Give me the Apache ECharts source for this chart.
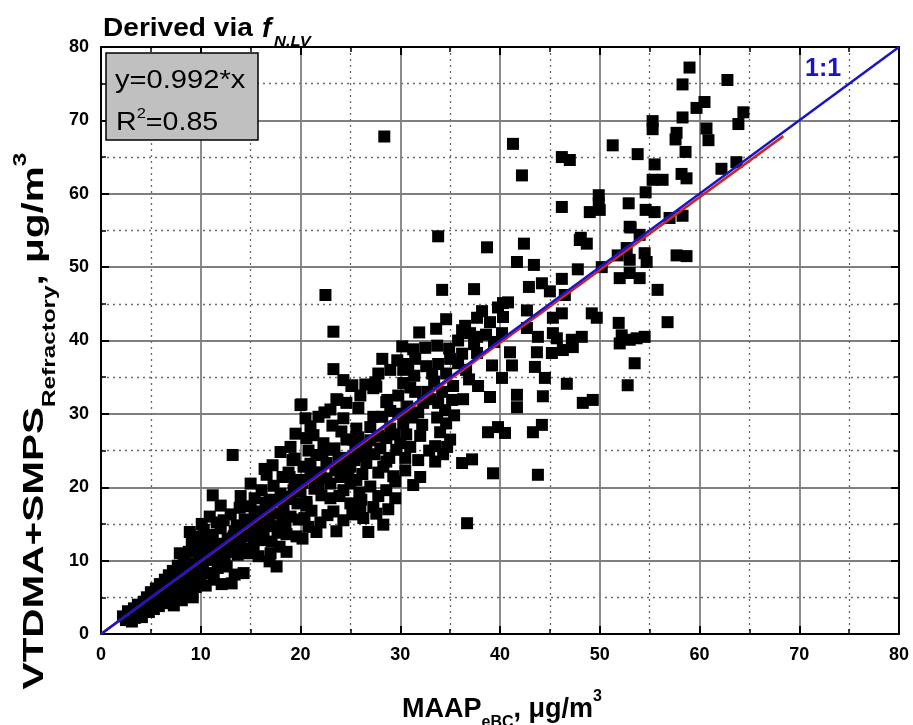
<!DOCTYPE html>
<html>
<head>
<meta charset="utf-8">
<script src="https://cdn.jsdelivr.net/npm/echarts@6/dist/echarts.min.js"></script>
<style>
html,body{margin:0;padding:0;background:#fff;}
#chart{width:913px;height:725px;}
</style>
</head>
<body>
<div id="chart"></div>
<script>
// ---- data (MAAP eBC vs VTDMA+SMPS refractory, µg/m³) ----
const lowBand = [
[2.2,2.4],[2.5,1.9],[2.7,3.1],[3.0,2.5],[3.1,1.7],[3.3,3.5],[3.5,2.7],[3.7,4.0],[3.9,3.1],[4.1,2.3],
[4.3,4.4],[4.4,3.5],[4.6,5.0],[4.8,3.0],[5.0,5.7],[5.1,4.2],[5.3,3.4],[5.5,6.2],[5.6,4.8],[5.8,3.8],
[5.9,6.8],[6.1,5.5],[6.2,4.2],[6.4,7.4],[6.5,5.9],[6.6,4.5],[6.8,8.0],[6.9,6.5],[7.0,5.1],[7.2,8.6],
[7.3,3.9],[7.4,7.0],[7.5,5.8],[7.7,9.3],[7.8,7.6],[7.9,6.2],[7.9,11.0],[8.1,4.6],[8.2,8.4],[8.3,10.0],
[8.4,6.8],[8.6,9.0],[8.7,5.5],[8.8,11.2],[8.9,13.9],[9.0,7.6],[9.1,12.3],[9.2,5.0],[9.3,9.6],[9.5,6.4],
[9.6,11.9],[9.7,8.3],[9.8,13.3],[9.9,10.5],[10.0,7.0],[10.1,15.0],[10.2,9.2],[10.3,14.2],[10.4,11.6]
];
const band10to20 = [
[10.5,6.6],[10.6,12.8],[10.8,8.3],[10.9,16.0],[11.0,10.2],[11.2,18.9],[11.2,13.5],[11.3,7.4],[11.5,11.3],[11.6,15.2],
[11.7,9.0],[11.9,12.3],[12.0,14.4],[12.1,6.8],[12.3,15.5],[12.4,10.5],[12.6,9.2],[12.7,13.0],[12.9,11.8],[13.0,16.3],
[13.1,6.9],[13.2,24.4],[13.3,13.3],[13.4,8.1],[13.6,14.8],[13.7,10.8],[13.9,17.2],[14.0,12.5],[14.3,8.3],[14.4,15.6],
[14.6,13.7],[14.8,11.0],[15.0,17.4],[15.2,14.3],[15.3,11.9],[15.4,18.5],[15.6,15.5],[15.8,12.8],[16.0,16.7],[16.1,19.6],
[16.3,14.0],[16.5,17.9],[16.6,21.7],[16.8,15.2],[16.9,9.9],[16.9,18.3],[17.1,12.6],[17.3,20.2],[17.4,16.4],[17.6,9.2],
[17.7,13.8],[17.9,11.9],[18.0,19.1],[18.2,21.4],[18.3,17.0],[18.5,14.8],[18.6,18.7],[18.8,22.0],[18.9,21.4],[19.0,16.0],
[19.2,23.7],[19.3,19.6],[19.4,23.9],[19.5,27.3],[19.6,13.3],[19.7,17.8],[19.9,21.0],[20.0,19.4],[20.0,31.2]
];
const band20to30 = [
[20.1,31.3],[20.3,22.8],[20.4,15.8],[20.5,29.4],[20.6,18.0],[20.8,25.0],[21.0,21.4],[21.1,16.8],[21.3,27.1],[21.4,19.8],
[21.6,24.4],[21.6,13.9],[21.8,29.6],[22.0,22.0],[22.1,18.9],[22.3,26.0],[22.5,46.2],[22.6,23.3],[22.7,16.2],[22.8,25.1],
[23.0,20.5],[23.2,28.4],[23.3,41.2],[23.3,36.1],[23.3,16.7],[23.5,22.3],[23.6,32.0],[23.7,31.9],[23.9,18.8],[24.0,21.4],
[24.1,27.6],[24.3,34.6],[24.3,29.4],[24.3,19.6],[24.3,15.5],[24.5,24.0],[24.8,22.0],[25.0,17.8],[25.0,22.8],[25.1,33.8],
[25.2,33.9],[25.3,26.5],[25.5,25.1],[25.6,21.0],[25.6,28.0],[25.8,30.8],[25.9,19.3],[26.1,18.3],[26.3,15.8],[26.4,24.2],
[26.6,23.3],[26.8,13.9],[27.0,26.4],[27.0,20.1],[27.3,29.6],[27.3,17.3],[27.3,33.5],[27.5,34.3],[27.6,16.4],[27.6,33.7],
[27.8,22.0],[28.0,25.3],[28.2,37.5],[28.3,22.8],[28.3,14.9],[28.4,67.8],[28.6,31.6],[28.6,26.7],[28.6,19.6],[28.7,31.9],
[28.9,24.0],[29.0,28.0],[29.3,21.5],[29.5,20.8],[29.6,25.1],[29.7,37.3],[29.8,30.0],[30.0,26.0]
];
const band30to40 = [
[30.2,39.2],[30.3,36.0],[30.3,34.2],[30.3,28.7],[30.5,24.0],[30.7,31.0],[31.0,25.5],[31.2,29.5],[31.3,38.8],[31.5,33.0],
[31.8,23.7],[31.9,41.1],[32.0,21.4],[32.0,27.0],[32.3,31.5],[32.5,39.0],[32.7,33.0],[32.9,25.0],[33.2,35.5],[33.5,23.5],
[33.5,25.6],[33.6,41.6],[33.7,39.3],[33.7,29.5],[33.8,54.2],[33.8,31.5],[34.0,27.5],[34.2,46.9],[34.3,24.5],[34.5,30.5],
[34.6,42.9],[34.6,28.7],[34.7,25.5],[34.9,38.9],[35.0,26.5],[35.2,31.9],[35.3,33.8],[35.8,36.9],[36.2,41.4],[36.2,23.3],
[36.3,32.0],[36.5,42.0],[36.7,15.1],[36.9,34.7],[37.2,23.8],[37.4,47.0],[37.7,43.1],[37.7,40.5],[37.7,38.3],[38.7,52.7],
[38.8,27.5],[39.0,32.3],[39.2,36.6],[39.3,21.9],[39.8,28.2]
];
const band40to50 = [
[40.2,41.0],[40.2,34.9],[40.3,45.1],[40.3,43.2],[40.5,27.4],[40.8,45.2],[41.0,38.4],[41.2,36.6],[41.3,66.8],[41.7,50.7],
[41.7,32.6],[41.7,30.9],[42.2,62.5],[42.4,53.2],[42.7,44.1],[42.7,41.7],[42.9,47.3],[43.3,27.5],[43.4,50.3],[43.5,36.4],
[43.7,38.4],[43.8,40.5],[43.8,21.7],[44.2,47.8],[44.2,28.5],[44.3,32.4],[44.5,34.9],[45.0,46.7],[45.2,38.3],[45.3,43.1],
[45.3,41.0],[45.7,40.3],[46.2,58.2],[46.2,48.4],[46.2,43.7],[46.2,65.0],[46.3,38.7],[46.5,46.2],[46.7,34.1],[47.0,64.6],
[47.2,40.1],[47.3,39.1],[47.8,49.7],[48.0,53.7],[48.1,54.0],[48.2,40.5],[48.3,31.5],[48.7,53.2],[49.0,57.5],[49.2,43.7],
[49.3,31.9],[49.7,43.1],[49.9,59.8],[49.9,58.7],[50.0,57.8]
];
const band50to65 = [
[50.2,50.0],[51.3,66.6],[51.8,51.6],[51.9,42.4],[52.0,48.5],[52.0,39.6],[52.2,40.7],[52.7,52.6],[52.8,33.9],[52.9,58.7],
[53.0,55.5],[53.0,51.0],[53.0,49.2],[53.0,40.1],[53.1,55.4],[53.5,36.9],[53.7,40.3],[53.8,65.4],[54.0,54.4],[54.0,48.5],
[54.5,51.9],[54.5,40.5],[54.6,60.2],[54.6,57.8],[54.7,50.7],[55.3,69.9],[55.3,68.8],[55.3,61.9],[55.5,64.0],[55.5,57.5],
[55.8,46.9],[56.3,61.9],[56.8,42.5],[57.0,56.7],[57.6,67.4],[57.7,68.3],[57.7,51.6],[58.2,62.7],[58.3,74.9],[58.3,70.4],
[58.3,57.0],[58.6,65.7],[58.7,62.1],[58.7,51.5],[59.0,77.2],[59.7,71.7],[60.5,72.5],[60.7,68.9],[60.9,67.3],[62.2,63.4],
[62.8,75.5],[63.7,64.3],[63.9,69.5],[64.4,71.1]
];
const denseCore = [
[3.4,2.2],[3.8,3.0],[4.2,3.7],[4.6,3.9],[5.0,4.6],[5.4,5.0],[5.8,5.2],[6.2,6.0],[6.6,6.3],[7.0,6.8],
[7.4,6.1],[7.8,7.0],[8.2,7.3],[8.6,7.9],[9.0,8.6],[9.4,8.0],[9.8,9.2],[10.2,9.8],[10.6,10.1],[11.0,11.6],
[11.4,12.2],[11.8,10.5],[12.2,12.0],[12.6,11.2],[13.0,12.4],[13.4,14.0],[13.8,13.2],[14.2,11.6],[14.6,15.0],[15.0,13.3],
[15.4,16.0],[15.8,14.4],[16.2,12.8],[16.6,15.9],[17.0,17.1],[17.4,14.7],[17.8,18.2],[18.2,16.0],[18.6,13.6],[19.0,18.4],
[19.4,20.4],[19.8,15.6],[20.2,20.6],[20.6,17.5],[21.0,23.2],[21.4,22.0],[21.8,20.4],[22.2,24.4],[22.6,21.2],[23.0,18.5],
[23.4,25.3],[23.8,23.8],[24.2,22.6],[24.6,26.5],[25.0,20.5],[25.4,23.7],[25.8,26.8],[26.2,21.8],[26.6,25.6],[27.0,28.2],
[27.4,24.5],[27.8,27.0],[28.2,29.6],[28.6,23.5],[29.0,30.4],[29.4,27.2],[29.8,32.5],[30.2,30.0],[30.6,27.2],[31.0,33.6],
[31.4,35.2],[31.8,30.2],[32.2,28.5],[32.6,36.5],[33.0,32.0],[33.4,34.4],[33.8,36.8],[34.2,33.0],[34.6,35.5],[35.0,37.5],
[35.4,29.8],[35.8,40.0],[36.2,38.2],[36.6,36.0],[37.0,41.0],[37.4,39.5],[37.8,33.8],[38.2,44.0],[38.6,40.8],[39.0,42.5],
[39.4,39.8],[39.8,44.5]
];
const coreEdges = [
[12.0,17.5],[14.0,18.8],[15.0,20.5],[16.4,22.5],[17.2,23.0],[18.0,24.8],[19.0,25.5],[20.6,26.7],[21.0,28.3],[22.4,30.2],
[23.0,30.6],[24.6,31.5],[26.0,32.5],[26.5,34.0],[27.8,35.5],[29.0,36.0],[30.8,36.8],[31.5,37.5],
[15.8,10.6],[17.0,11.0],[18.6,11.2],[20.2,13.0],[20.8,14.6],[22.0,15.2],[23.6,14.0],[25.2,16.3],[26.0,17.2],[27.8,18.8],
[28.8,17.0],[29.5,18.5],[30.5,22.3],[31.3,20.3]
];
const fitSlope = 0.992;
const fitXRange = [0, 68.4];
const oneToOneRange = [0, 80];
const axisTicks = [0, 10, 20, 30, 40, 50, 60, 70, 80];

const points = [].concat(lowBand, band10to20, band20to30, band30to40, band40to50, band50to65, denseCore, coreEdges);
const fitLine = fitXRange.map(x => [x, fitSlope * x]);
const oneLine = oneToOneRange.map(x => [x, x]);

const FONT = '"Liberation Sans", Arial, sans-serif';
const chart = echarts.init(document.getElementById('chart'), null, {renderer: 'canvas'});

function axisCommon(showLabel) {
  return {
    type: 'value', min: axisTicks[0], max: axisTicks[axisTicks.length - 1], interval: 10,
    axisLine: {show: true, onZero: false, lineStyle: {color: '#000', width: 2}},
    axisTick: {show: true, inside: true, length: 8, lineStyle: {color: '#000', width: 2}},
    minorTick: {show: true, splitNumber: 2, length: 5, lineStyle: {color: '#000', width: 1.5}},
    axisLabel: {show: showLabel, color: '#000', fontFamily: FONT, fontWeight: 'bold', fontSize: 18, margin: 12},
    splitLine: {show: showLabel, lineStyle: {color: '#7f7f7f', width: 1.8}},
    minorSplitLine: {show: showLabel, lineStyle: {color: '#6a6a6a', width: 1.3, type: [2, 4]}}
  };
}

const option = {
  backgroundColor: '#fff',
  animation: false,
  grid: {left: 101, right: 14, top: 47, bottom: 91, containLabel: false},
  xAxis: [
    Object.assign(axisCommon(true), {position: 'bottom'}),
    Object.assign(axisCommon(false), {position: 'top'})
  ],
  yAxis: [
    Object.assign(axisCommon(true), {position: 'left'}),
    Object.assign(axisCommon(false), {position: 'right'})
  ],
  series: [
    {type: 'scatter', data: points, symbol: 'rect', symbolSize: 12,
     itemStyle: {color: '#000', opacity: 1}, z: 2},
    {type: 'line', data: fitLine, showSymbol: false, symbol: 'none',
     lineStyle: {color: '#c8282a', width: 2.5}, z: 3},
    {type: 'line', data: oneLine, showSymbol: false, symbol: 'none',
     lineStyle: {color: '#1a14c8', width: 2.5}, z: 4}
  ],
  graphic: [
    {type: 'text', x: 103, y: 29, scaleX: 1.08, z: 10,
     style: {text: 'Derived via', fontFamily: FONT, fontWeight: 'bold', fontSize: 26, fill: '#000',
       textAlign: 'left', textVerticalAlign: 'middle'}},
    {type: 'text', x: 262, y: 29, z: 10,
     style: {text: 'f', fontFamily: FONT, fontWeight: 'bold', fontStyle: 'italic', fontSize: 28, fill: '#000',
       textAlign: 'left', textVerticalAlign: 'middle'}},
    {type: 'text', x: 274, y: 42, scaleX: 1.1, z: 10,
     style: {text: 'N.LV', fontFamily: FONT, fontWeight: 'bold', fontStyle: 'italic', fontSize: 15, fill: '#000',
       textAlign: 'left', textVerticalAlign: 'middle'}},
    {type: 'rect', shape: {x: 106, y: 53, width: 152, height: 87}, z: 10,
     style: {fill: '#c0c0c0', stroke: '#000', lineWidth: 1.5}},
    {type: 'text', x: 115, y: 81, scaleX: 1.12, z: 11,
     style: {text: 'y=0.992*x', fontFamily: FONT, fontSize: 26, fill: '#000', textVerticalAlign: 'middle', textAlign: 'left'}},
    {type: 'text', x: 116, y: 121, scaleX: 1.1, z: 11,
     style: {text: '{a|R}{s|2}{a|=0.85}', textVerticalAlign: 'middle', textAlign: 'left',
       rich: {
         a: {fontFamily: FONT, fontSize: 26, fill: '#000', lineHeight: 30, verticalAlign: 'bottom'},
         s: {fontFamily: FONT, fontSize: 15, fill: '#000', lineHeight: 30, verticalAlign: 'top'}
       }}},
    {type: 'text', x: 805, y: 69, z: 11,
     style: {text: '1:1', fontFamily: FONT, fontWeight: 'bold', fontSize: 25, fill: '#1a14c8', textVerticalAlign: 'middle', textAlign: 'left'}},
    {type: 'text', x: 502, y: 706, z: 11,
     style: {text: '{a|MAAP}{s|eBC}{a|, μg/m}{p|3}', textAlign: 'center', textVerticalAlign: 'middle',
       rich: {
         a: {fontFamily: FONT, fontWeight: 'bold', fontSize: 27, fill: '#000', lineHeight: 34, verticalAlign: 'bottom'},
         s: {fontFamily: FONT, fontWeight: 'bold', fontSize: 16, fill: '#000', lineHeight: 34, verticalAlign: 'bottom', padding: [0,0,-8,0]},
         p: {fontFamily: FONT, fontWeight: 'bold', fontSize: 16, fill: '#000', lineHeight: 34, verticalAlign: 'top'}
       }}},
    {type: 'text', x: 31, y: 421, rotation: Math.PI / 2, scaleX: 1.35, z: 11,
     style: {text: '{a|VTDMA+SMPS}{s|Refractory}{a|, μg/m}{p|3}', textAlign: 'center', textVerticalAlign: 'middle',
       rich: {
         a: {fontFamily: FONT, fontWeight: 'bold', fontSize: 30, fill: '#000', lineHeight: 38, verticalAlign: 'bottom'},
         s: {fontFamily: FONT, fontWeight: 'bold', fontSize: 18, fill: '#000', lineHeight: 38, verticalAlign: 'bottom', padding: [0,0,-9,0]},
         p: {fontFamily: FONT, fontWeight: 'bold', fontSize: 18, fill: '#000', lineHeight: 38, verticalAlign: 'top'}
       }}}
  ]
};
chart.setOption(option);
</script>
</body>
</html>
